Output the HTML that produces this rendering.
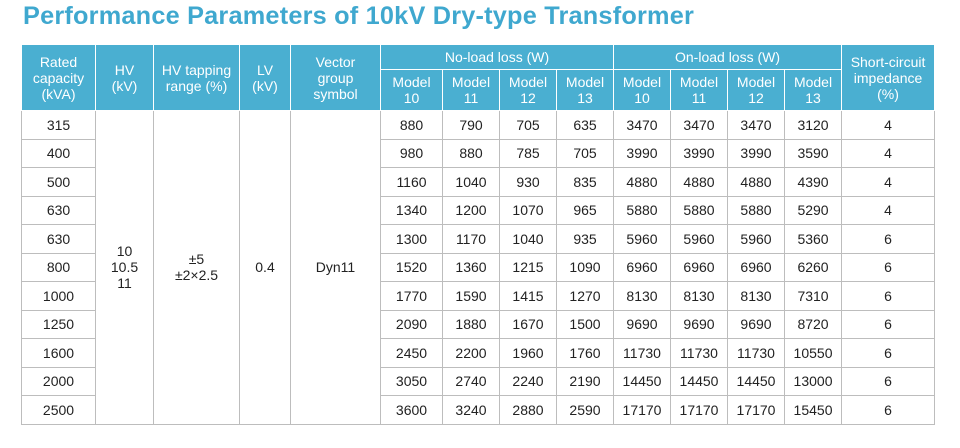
<!DOCTYPE html>
<html><head><style>
body{margin:0;width:960px;height:448px;background:#fff;font-family:"Liberation Sans",sans-serif;position:relative;overflow:hidden}
h1{position:absolute;left:23px;top:2px;margin:0;font-size:25.3px;font-weight:bold;color:#3fa8cf;letter-spacing:0.2px;white-space:nowrap}
table{position:absolute;left:21px;top:44px;border-collapse:collapse;table-layout:fixed;width:914px}
td,th{border:1.5px solid #bdbdbd;text-align:center;padding:0;font-size:14px;color:#222;font-weight:normal;line-height:16px}
th{background:#4aafd1;color:#fff;border-color:#fff;border-width:1px}
tr.h1 th{height:24px}
tr.h2 th{height:40px}
tbody td{height:27.5px}
</style></head><body>
<h1>Performance Parameters of 10kV Dry-type Transformer</h1>
<table>
<colgroup><col style="width:74px"><col style="width:58px"><col style="width:86px"><col style="width:51px"><col style="width:90px"><col style="width:62px"><col style="width:57px"><col style="width:57px"><col style="width:57px"><col style="width:57px"><col style="width:57px"><col style="width:57px"><col style="width:57px"><col style="width:93px"></colgroup>
<thead>
<tr class="h1"><th rowspan="2">Rated<br>capacity<br>(kVA)</th><th rowspan="2">HV<br>(kV)</th><th rowspan="2">HV tapping<br>range (%)</th><th rowspan="2">LV<br>(kV)</th><th rowspan="2">Vector<br>group<br>symbol</th><th colspan="4">No-load loss (W)</th><th colspan="4">On-load loss (W)</th><th rowspan="2">Short-circuit<br>impedance<br>(%)</th></tr>
<tr class="h2"><th>Model<br>10</th><th>Model<br>11</th><th>Model<br>12</th><th>Model<br>13</th><th>Model<br>10</th><th>Model<br>11</th><th>Model<br>12</th><th>Model<br>13</th></tr>
</thead>
<tbody>
<tr><td>315</td><td rowspan="11">10<br>10.5<br>11</td><td rowspan="11">±5<br>±2×2.5</td><td rowspan="11">0.4</td><td rowspan="11">Dyn11</td><td>880</td><td>790</td><td>705</td><td>635</td><td>3470</td><td>3470</td><td>3470</td><td>3120</td><td>4</td></tr>
<tr><td>400</td><td>980</td><td>880</td><td>785</td><td>705</td><td>3990</td><td>3990</td><td>3990</td><td>3590</td><td>4</td></tr>
<tr><td>500</td><td>1160</td><td>1040</td><td>930</td><td>835</td><td>4880</td><td>4880</td><td>4880</td><td>4390</td><td>4</td></tr>
<tr><td>630</td><td>1340</td><td>1200</td><td>1070</td><td>965</td><td>5880</td><td>5880</td><td>5880</td><td>5290</td><td>4</td></tr>
<tr><td>630</td><td>1300</td><td>1170</td><td>1040</td><td>935</td><td>5960</td><td>5960</td><td>5960</td><td>5360</td><td>6</td></tr>
<tr><td>800</td><td>1520</td><td>1360</td><td>1215</td><td>1090</td><td>6960</td><td>6960</td><td>6960</td><td>6260</td><td>6</td></tr>
<tr><td>1000</td><td>1770</td><td>1590</td><td>1415</td><td>1270</td><td>8130</td><td>8130</td><td>8130</td><td>7310</td><td>6</td></tr>
<tr><td>1250</td><td>2090</td><td>1880</td><td>1670</td><td>1500</td><td>9690</td><td>9690</td><td>9690</td><td>8720</td><td>6</td></tr>
<tr><td>1600</td><td>2450</td><td>2200</td><td>1960</td><td>1760</td><td>11730</td><td>11730</td><td>11730</td><td>10550</td><td>6</td></tr>
<tr><td>2000</td><td>3050</td><td>2740</td><td>2240</td><td>2190</td><td>14450</td><td>14450</td><td>14450</td><td>13000</td><td>6</td></tr>
<tr><td>2500</td><td>3600</td><td>3240</td><td>2880</td><td>2590</td><td>17170</td><td>17170</td><td>17170</td><td>15450</td><td>6</td></tr>
</tbody>
</table>
</body></html>
